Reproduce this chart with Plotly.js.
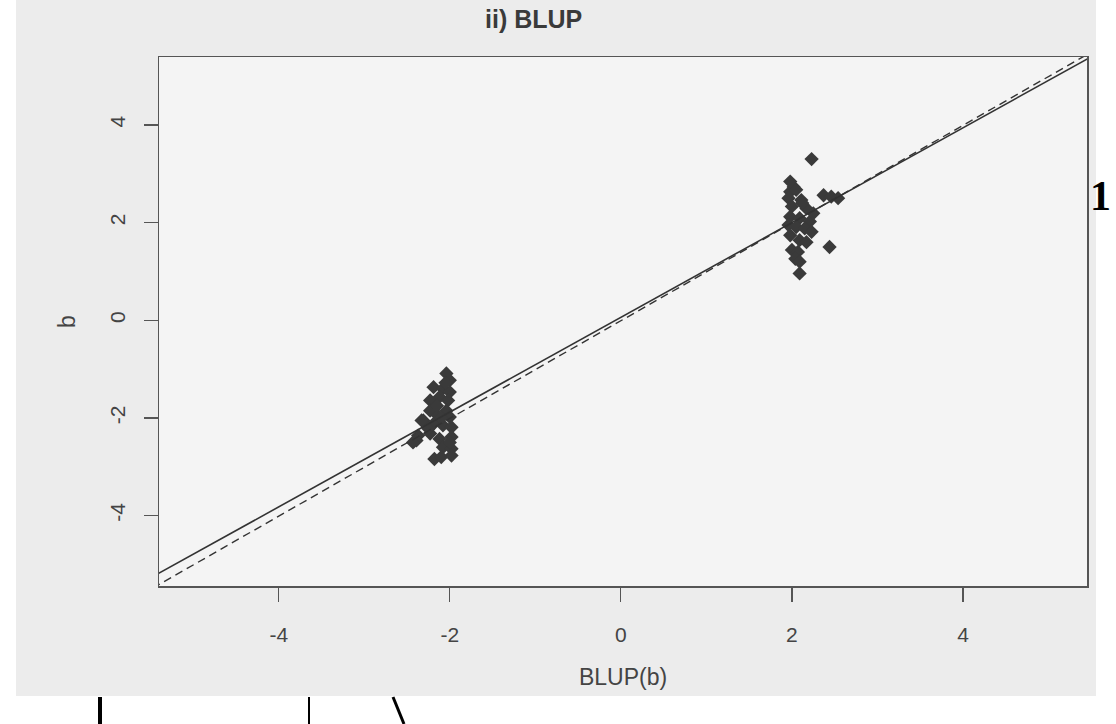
<!DOCTYPE html>
<html>
<head>
<meta charset="utf-8">
<script src="https://cdn.plot.ly/plotly-3.0.1.min.js"></script>
<style>
  html, body { margin: 0; padding: 0; background: #ffffff; width: 1116px; height: 724px; overflow: hidden; }
  #scan { position: absolute; left: 16px; top: 0px; width: 1080px; height: 696px; background: #ececec; }
  #plot { position: absolute; left: 0; top: 0; width: 1116px; height: 724px; }
</style>
</head>
<body>
<div id="scan"></div>
<div id="plot"></div>
<script>
// BLUP(b) estimates (x) and true b values (y)
const blupB = [
  -2.04, -2.00, -2.19, -2.08, -2.00, -2.23, -2.12, -2.02, -2.23, -2.04,
  -2.14, -2.00, -2.31, -2.19, -2.08, -1.98, -2.37, -2.23, -2.12, -1.98,
  -2.08, -1.98, -2.18, -2.10, -1.98, -2.39, -2.33, -2.15, -2.05, -2.25,
  -2.43, -2.10, -2.00,
  2.23, 2.02, 1.98, 2.05, 1.96, 2.11, 2.37, 2.46, 2.54, 2.00,
  2.17, 1.98, 2.09, 2.21, 1.96, 2.05, 2.15, 2.23, 1.98, 2.09,
  2.17, 2.00, 2.07, 2.44, 2.04, 2.09, 2.09, 2.25, 1.98, 2.12
];
const trueB = [
  -1.09, -1.23, -1.37, -1.40, -1.47, -1.64, -1.57, -1.64, -1.85, -1.85,
  -1.95, -1.98, -2.05, -2.12, -2.15, -2.19, -2.36, -2.32, -2.43, -2.39,
  -2.60, -2.63, -2.84, -2.80, -2.77, -2.46, -2.05, -1.75, -1.28, -2.22,
  -2.50, -2.00, -2.50,
  3.30, 2.73, 2.63, 2.67, 2.50, 2.46, 2.56, 2.53, 2.50, 2.33,
  2.29, 2.12, 2.09, 2.02, 1.95, 1.91, 1.88, 1.81, 1.74, 1.64,
  1.60, 1.44, 1.40, 1.50, 1.26, 1.20, 0.96, 2.19, 2.84, 2.40
];
// reference lines: intercept, slope
const lineNames = ["solid", "dash"];
const lineIntercepts = [0.06, -0.01];
const lineSlopes = [0.97, 1.0];
const lineSpan = [-6, 6];

const xTicks = [-4, -2, 0, 2, 4];
const yTicks = [-4, -2, 0, 2, 4];

const traces = [{
  type: 'scatter', mode: 'markers', x: blupB, y: trueB,
  marker: { symbol: 'diamond', size: 11, color: '#3a3a3a', line: { width: 0 } },
  hoverinfo: 'x+y', showlegend: false
}];
lineNames.forEach((d, i) => {
  traces.push({
    type: 'scatter', mode: 'lines',
    x: lineSpan,
    y: lineSpan.map(v => lineIntercepts[i] + lineSlopes[i] * v),
    line: { color: '#333333', width: d === 'solid' ? 1.6 : 1.4, dash: d === 'solid' ? 'solid' : '8px,5px' },
    showlegend: false, hoverinfo: 'skip'
  });
});

const tickFont = { family: 'Liberation Sans, Arial, sans-serif', size: 21, color: '#444444' };
const titleFont = { family: 'Liberation Sans, Arial, sans-serif', size: 23, color: '#444444' };

const layout = {
  width: 1116, height: 724,
  margin: { l: 159, r: 29, t: 57, b: 138 },
  paper_bgcolor: 'rgba(0,0,0,0)',
  plot_bgcolor: '#f4f4f4',
  showlegend: false,
  xaxis: {
    range: [-5.40, 5.45], tickvals: xTicks, ticktext: xTicks.map(String),
    ticks: 'outside', ticklen: 14, tickwidth: 1.2, tickcolor: '#555555',
    showgrid: false, zeroline: false, showline: true, linecolor: '#555555', linewidth: 1.5, mirror: true,
    tickfont: tickFont, ticklabelstandoff: 15,
    title: { text: 'BLUP(b)', font: titleFont, standoff: 24 }
  },
  yaxis: {
    range: [-5.44, 5.39], tickvals: yTicks, ticktext: yTicks.map(String),
    ticks: 'outside', ticklen: 14, tickwidth: 1.2, tickcolor: '#555555', tickangle: -90,
    showgrid: false, zeroline: false, showline: true, linecolor: '#555555', linewidth: 1.5, mirror: true,
    tickfont: tickFont, ticklabelstandoff: 10,
    title: { text: 'b', font: titleFont, standoff: 24 }
  },
  annotations: [
    { text: '<b>ii) BLUP</b>', xref: 'paper', yref: 'paper',
      x: (533 - 159) / 928, y: 1 + (57 - 19) / 529, xanchor: 'center', yanchor: 'middle',
      showarrow: false, font: { family: 'Liberation Sans, Arial, sans-serif', size: 25, color: '#3a3a3a' } },
    { text: '<b>1</b>', xref: 'paper', yref: 'paper',
      x: (1088 - 159) / 928, y: 1 - (196 - 57) / 529, xanchor: 'left', yanchor: 'middle',
      showarrow: false, font: { family: 'Liberation Serif, DejaVu Serif, serif', size: 42, color: '#000000' } }
  ],
  shapes: [
    { type: 'line', xref: 'paper', yref: 'paper', x0: (100 - 159) / 928, x1: (100 - 159) / 928,
      y0: -(697 - 586) / 529, y1: -(724 - 586) / 529, line: { color: '#000', width: 4 } },
    { type: 'line', xref: 'paper', yref: 'paper', x0: (309 - 159) / 928, x1: (309 - 159) / 928,
      y0: -(697 - 586) / 529, y1: -(724 - 586) / 529, line: { color: '#000', width: 2 } },
    { type: 'line', xref: 'paper', yref: 'paper', x0: (393 - 159) / 928, x1: (404 - 159) / 928,
      y0: -(697 - 586) / 529, y1: -(724 - 586) / 529, line: { color: '#000', width: 3 } }
  ]
};

Plotly.newPlot('plot', traces, layout, { displayModeBar: false, staticPlot: true });
</script>
</body>
</html>
